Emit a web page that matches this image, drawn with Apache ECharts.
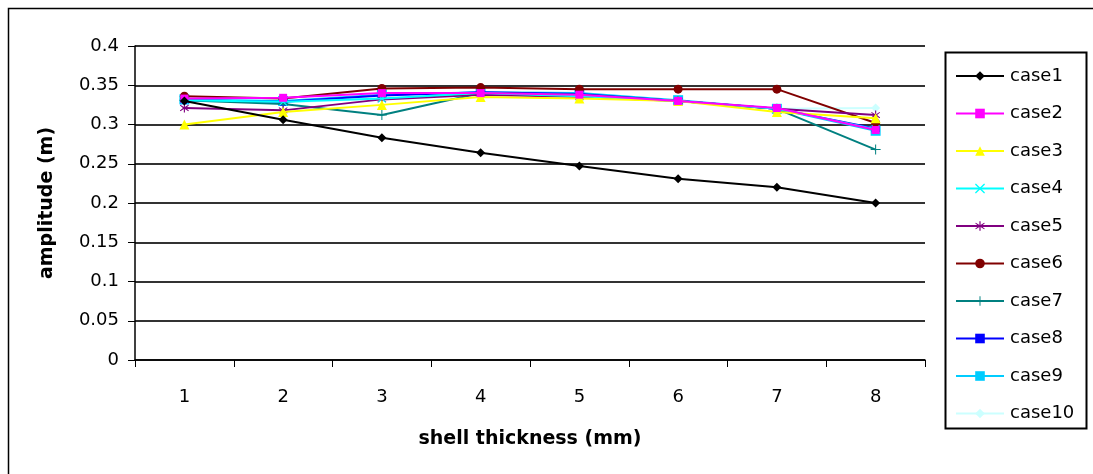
<!DOCTYPE html>
<html><head><meta charset="utf-8">
<script src="https://cdn.jsdelivr.net/npm/echarts@6/dist/echarts.min.js"></script>
<style>html,body{margin:0;padding:0;background:#fff}#c{width:1093px;height:474px}</style>
</head><body><div id="c"></div>
<script>
const categories = ['1','2','3','4','5','6','7','8'];
const seriesNames = ['case1','case2','case3','case4','case5','case6','case7','case8','case9','case10'];
const case1 = [0.330, 0.306, 0.283, 0.264, 0.247, 0.231, 0.220, 0.200];
const case2 = [0.333, 0.334, 0.340, 0.340, 0.338, 0.330, 0.321, 0.293];
const case3 = [0.300, 0.316, 0.325, 0.335, 0.333, 0.330, 0.316, 0.308];
const case4 = [0.331, 0.329, 0.333, 0.340, 0.336, 0.330, 0.320, 0.294];
const case5 = [0.321, 0.318, 0.332, 0.338, 0.335, 0.330, 0.320, 0.312];
const case6 = [0.336, 0.333, 0.346, 0.347, 0.345, 0.345, 0.345, 0.302];
const case7 = [0.331, 0.326, 0.312, 0.340, 0.338, 0.330, 0.320, 0.268];
const case8 = [0.331, 0.329, 0.337, 0.341, 0.339, 0.330, 0.320, 0.295];
const case9 = [0.332, 0.330, 0.338, 0.341, 0.340, 0.331, 0.320, 0.292];
const case10 = [0.330, 0.328, 0.333, 0.338, 0.335, 0.330, 0.320, 0.321];
const yTicks = [0, 0.05, 0.1, 0.15, 0.2, 0.25, 0.3, 0.35, 0.4];

const values = [case1,case2,case3,case4,case5,case6,case7,case8,case9,case10];
const colors = ['#000000','#ff00ff','#ffff00','#00ffff','#800080','#800000','#008080','#0000ff','#00ccff','#ccffff'];
const X = 'path://M0,0L2,0L10,8L18,0L20,0L20,2L12,10L20,18L20,20L18,20L10,12L2,20L0,20L0,18L8,10L0,2Z';
const PLUS = 'path://M9,0L11,0L11,9L20,9L20,11L11,11L11,20L9,20L9,11L0,11L0,9L9,9Z';
const STAR = 'path://M9,0L11,0L11,8L17,3L18,4.5L12.5,10L18,15.5L17,17L11,12L11,20L9,20L9,12L3,17L2,15.5L7.5,10L2,4.5L3,3L9,8Z';
const DASH = 'path://M0,7L20,7L20,13L0,13Z';
const symbols = ['diamond','rect','triangle',X,STAR,'circle',PLUS,DASH,DASH,'diamond'];
const sizes = [9,8,10,8,9,9,10,8,10,9];
const FONT = 'DejaVu Sans, Liberation Sans, sans-serif';

const chart = echarts.init(document.getElementById('c'));
chart.setOption({
  animation:false,
  textStyle:{fontFamily:FONT},
  grid:{left:135, top:46, right:168, bottom:114, containLabel:false},
  xAxis:{type:'category', data:categories, boundaryGap:true,
    name:'shell thickness (mm)', nameLocation:'middle', nameGap:70,
    nameTextStyle:{fontSize:19, fontWeight:'bold', color:'#000', fontFamily:FONT},
    axisLine:{lineStyle:{color:'#000', width:1.5}},
    axisTick:{show:true, length:7, inside:false, lineStyle:{color:'#000'}},
    axisLabel:{fontSize:18, color:'#000', margin:28, fontFamily:FONT},
    splitLine:{show:false}},
  yAxis:{type:'value', min:0, max:0.4, interval:0.05,
    name:'amplitude (m)', nameLocation:'middle', nameGap:78, nameRotate:90,
    nameTextStyle:{fontSize:19, fontWeight:'bold', color:'#000', fontFamily:FONT},
    axisLine:{show:true, lineStyle:{color:'#000', width:1.5}},
    axisTick:{show:true, length:7, lineStyle:{color:'#000'}},
    axisLabel:{fontSize:18, color:'#000', margin:16, fontFamily:FONT,
      formatter:v=>{const t=yTicks.find(x=>Math.abs(x-v)<1e-9);return String(t!==undefined?t:v);}},
    splitLine:{show:true, lineStyle:{color:'#333', width:2}}},
  legend:{orient:'vertical', left:950, top:62, height:400, itemWidth:48, itemHeight:12, itemGap:19.5,
    textStyle:{fontSize:18, color:'#000', padding:[0,0,0,1], fontFamily:FONT}, data:seriesNames},
  graphic:[
    {type:'rect', shape:{x:8.5,y:8.5,width:1100,height:480}, style:{fill:'none', stroke:'#000', lineWidth:1.5}, silent:true, z:-10},
    {type:'rect', shape:{x:945.5,y:52.5,width:141,height:376}, style:{fill:'#fff', stroke:'#000', lineWidth:2}, silent:true, z:-5}
  ],
  series: seriesNames.map((n,i)=>({
    name:n, type:'line', data:values[i], symbol:symbols[i], symbolSize:sizes[i],
    showAllSymbol:true,
    lineStyle:{color:colors[i], width:2}, itemStyle:{color:colors[i]}, z: 10-i
  }))
});
</script></body></html>
